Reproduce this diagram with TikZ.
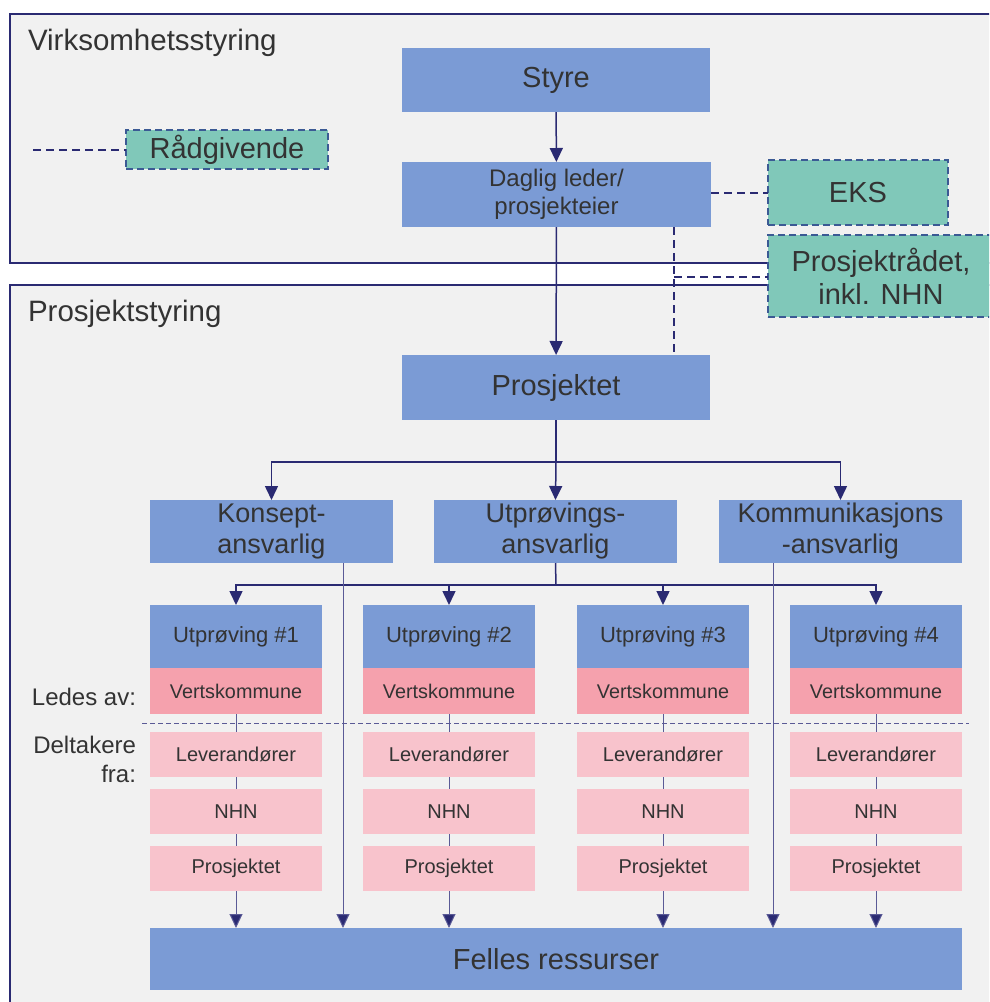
\documentclass[tikz,border=0pt]{standalone}
\usepackage{fontspec}
\setmainfont{Liberation Sans}
\usetikzlibrary{arrows.meta}
\definecolor{navy}{HTML}{2A2A72}
\definecolor{thin}{HTML}{5A5A96}
\definecolor{bluebox}{HTML}{7B9BD5}
\definecolor{tealbox}{HTML}{80C8B9}
\definecolor{pinkdark}{HTML}{F5A1AD}
\definecolor{pinklight}{HTML}{F8C3CC}
\definecolor{framebg}{HTML}{F1F1F1}
\definecolor{txt}{HTML}{333333}
\definecolor{dashblue}{HTML}{3B5A94}
\tikzset{
  base/.style={inner sep=0pt, outer sep=0pt, text=txt, align=center},
  bluenode/.style={base, fill=bluebox},
  tealnode/.style={base, fill=tealbox, draw=dashblue, line width=2pt, dash pattern=on 7pt off 4pt},
  vknode/.style={base, fill=pinkdark, minimum width=172, minimum height=46, font=\fontsize{19.8}{22}\selectfont},
  lnode/.style={base, fill=pinklight, minimum width=172, minimum height=45, font=\fontsize{20}{22}\selectfont},
  unode/.style={bluenode, minimum width=172, minimum height=63, font=\fontsize{22}{25}\selectfont},
  big/.style={font=\fontsize{29}{33}\selectfont},
  mid/.style={font=\fontsize{27}{31}\selectfont},
  arr/.style={draw=navy, line width=1.5pt, -{Triangle[width=13pt,length=14pt]}},
  conn/.style={draw=navy, line width=1.5pt},
  thinline/.style={draw=thin, line width=1pt},
  thinarr/.style={draw=thin, line width=1pt, -{Triangle[width=13pt,length=14pt,fill=navy]}},
  dashconn/.style={draw=navy, line width=2pt, dash pattern=on 8pt off 5pt},
  frame/.style={draw=navy, line width=2.5pt, fill=framebg},
  sep/.style={draw=thin, line width=1pt, dash pattern=on 5pt off 3pt},
  title/.style={base, anchor=west, font=\fontsize{29.5}{33}\selectfont}
}
\begin{document}
\begin{tikzpicture}[x=1pt,y=-1pt]
\useasboundingbox (0,0) rectangle (989,1002);
\clip (0,0) rectangle (989,1002);
\fill[white] (0,0) rectangle (989,1002);
% frames
\draw[frame] (10,14) rectangle (1000,263);
\draw[frame] (10,285) rectangle (1000,1015);
\node[title] (t1) at (28,43) {Virksomhetsstyring};
\node[title] (t2) at (28,314) {Prosjektstyring};

% top level
\node[bluenode, big, minimum width=308, minimum height=64] (styre) at (556,80) {Styre};
\node[bluenode, minimum width=309, minimum height=65, font=\fontsize{24}{28}\selectfont] (daglig) at (556.5,194.5) {Daglig leder/\\prosjekteier};
\node[tealnode, big, minimum width=180, minimum height=65] (eks) at (858,192.5) {EKS};
\node[tealnode, big, minimum width=226, minimum height=82] (prad) at (881,276) {Prosjektrådet,\\inkl. NHN};
\node[tealnode, big, minimum width=202, minimum height=39] (radg) at (227,149.5) {Rådgivende};
\coordinate (rl) at (33,149.5);
\draw[dashconn] (rl) -- (radg.west);

\node[bluenode, big, minimum width=308, minimum height=65] (prosj) at (556,387.5) {Prosjektet};

\draw[arr] (styre) -- (daglig);
\draw[arr] (daglig) -- (prosj);
\draw[dashconn] (daglig.east |- eks.west) -- (eks.west);
\coordinate (dx) at (674,277);
\draw[dashconn] (daglig.south -| dx) -- (prosj.north -| dx);
\draw[dashconn] (dx) -- (dx -| prad.west);

% level 2
\node[bluenode, mid, minimum width=243, minimum height=63] (konsept) at (271.5,531.5) {Konsept-\\ansvarlig};
\node[bluenode, mid, minimum width=243, minimum height=63] (utpa) at (555.5,531.5) {Utprøvings-\\ansvarlig};
\node[bluenode, mid, minimum width=243, minimum height=63] (komm) at (840.5,531.5) {Kommunikasjons\\-ansvarlig};
\coordinate (b1) at (556,462);
\draw[conn] (prosj.south) -- (b1);
\draw[arr] (b1) -| (konsept.north);
\draw[arr] (b1) -- (utpa.north);
\draw[arr] (b1) -| (komm.north);

% level 3
\foreach \i/\x in {1/236,2/449,3/663,4/876}{
  \node[unode] (u\i) at (\x,636.5) {Utprøving \#\i};
  \node[vknode] (v\i) at (\x,691) {Vertskommune};
  \node[lnode] (l\i) at (\x,754.5) {Leverandører};
  \node[lnode] (n\i) at (\x,811.5) {NHN};
  \node[lnode] (p\i) at (\x,868.5) {Prosjektet};
}
\node[bluenode, big, minimum width=812, minimum height=62] (felles) at (556,959) {Felles ressurser};

\coordinate (b2) at (556,585);
\draw[conn] (utpa.south) -- (b2);
\foreach \i in {1,2,3,4}{
  \draw[arr] (b2) -| (u\i.north);
}
% separator
\coordinate (s1) at (142,723);
\coordinate (s2) at (969,723);
\draw[sep] (s1) -- (s2);
\foreach \i in {1,2,3,4}{
  \draw[thinline] (v\i) -- (l\i);
  \draw[thinline] (l\i) -- (n\i);
  \draw[thinline] (n\i) -- (p\i);
  \draw[thinarr] (p\i) -- (p\i |- felles.north);
}
\coordinate (kx) at (343,0);
\coordinate (mx) at (773,0);
\draw[thinarr] (konsept.south -| kx) -- (felles.north -| kx);
\draw[thinarr] (komm.south -| mx) -- (felles.north -| mx);

\node[base, anchor=east, font=\fontsize{24}{28}\selectfont] (ledes) at (136,697) {Ledes av:};
\node[base, anchor=east, align=right, font=\fontsize{24}{29}\selectfont] (delt) at (136,759) {Deltakere\\fra:};
\end{tikzpicture}
\end{document}
